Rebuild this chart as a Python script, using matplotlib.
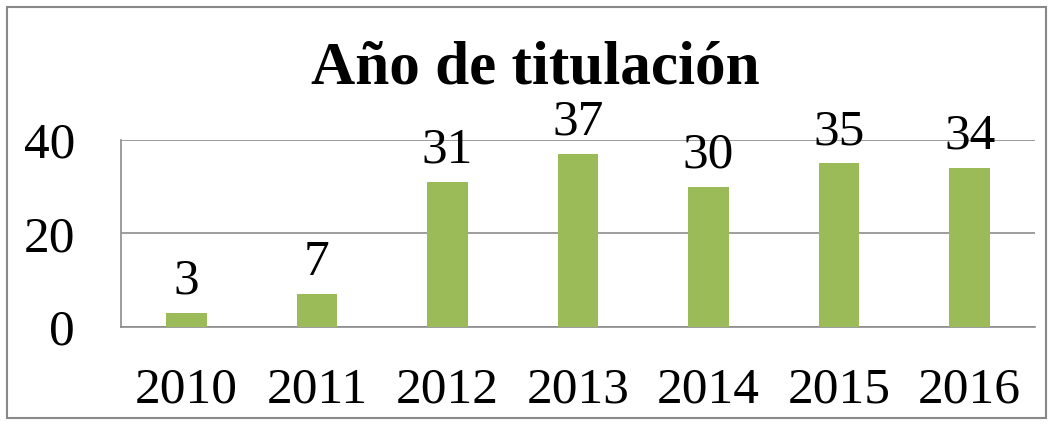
import matplotlib
matplotlib.use('Agg')
import matplotlib.pyplot as plt
from matplotlib.patches import Rectangle

# datos
years = ['2010', '2011', '2012', '2013', '2014', '2015', '2016']
counts = [3, 7, 31, 37, 30, 35, 34]
yticks = [0, 20, 40]

plt.rcParams['font.family'] = ['Liberation Serif', 'DejaVu Serif']

fig = plt.figure(figsize=(10.53, 4.25), dpi=100)
ax = fig.add_axes([0.1149, 0.2306, 0.868, 0.44])

bar_color = '#9BBB59'
grid_color = '#8C8C8C'

x = range(len(years))
bars = ax.bar(x, counts, width=0.31, color=bar_color, zorder=3)
ax.bar_label(bars, labels=[str(v) for v in counts], padding=6, fontsize=37)

ax.set_xlim(-0.5, len(years) - 0.5)
ax.set_ylim(0, 40)
ax.set_yticks(yticks)
ax.set_xticks(list(x))
ax.set_xticklabels(years)
ax.tick_params(axis='both', length=0, labelsize=37)
ax.tick_params(axis='y', pad=33)
ax.tick_params(axis='x', pad=29)

ax.yaxis.grid(True, color=grid_color, linewidth=1.2, zorder=0)
for s in ['top', 'right']:
    ax.spines[s].set_visible(False)
ax.spines['left'].set_color(grid_color)
ax.spines['bottom'].set_color(grid_color)
ax.spines['left'].set_linewidth(1.2)
ax.spines['bottom'].set_linewidth(1.2)

fig.text(0.508, 0.803, 'Año de titulación', ha='center', va='baseline',
         fontsize=44, fontweight='bold')

# marco del gráfico
fig.patches.append(Rectangle((7 / 1053, 7 / 425), 1 - 14 / 1053, 1 - 14 / 425,
                             transform=fig.transFigure, fill=False,
                             edgecolor='#888888', linewidth=1.5))

fig.savefig('out.png', dpi=100)
